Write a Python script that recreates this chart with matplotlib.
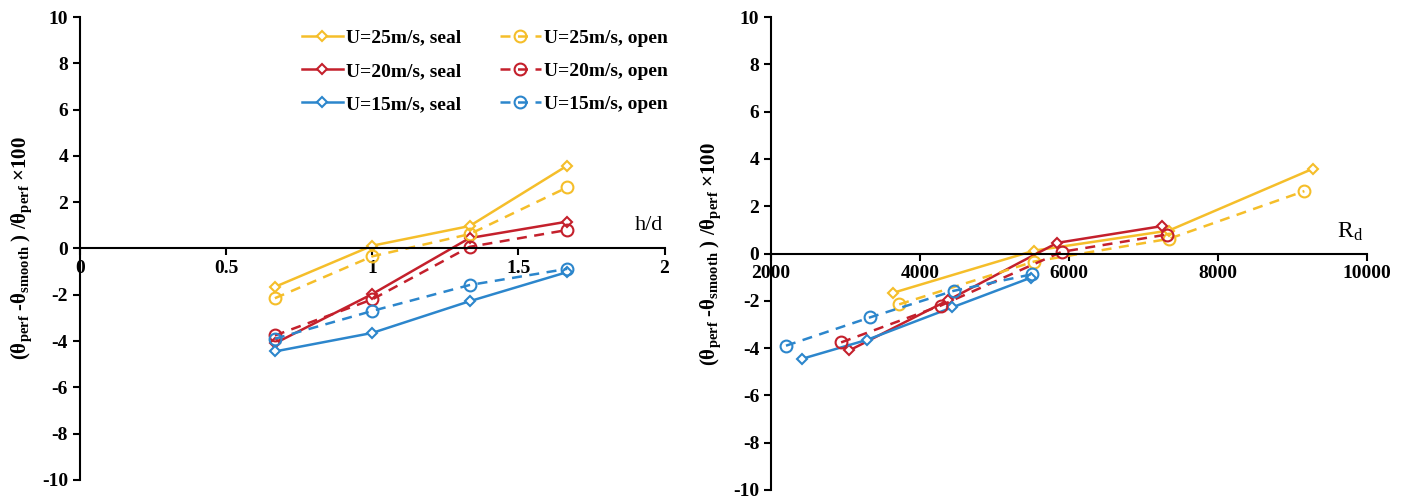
import matplotlib
matplotlib.use("Agg")
import matplotlib.pyplot as plt

plt.rcParams['font.family'] = ['Liberation Serif', 'DejaVu Serif']
plt.rcParams['mathtext.fontset'] = 'stix'
plt.rcParams['axes.unicode_minus'] = False
plt.rcParams['font.size'] = 14

# h/d values shared by all series
hd = [0.667, 1.0, 1.333, 1.667]

# relative difference (%) for each case
y25_seal = [-1.66, 0.12, 0.97, 3.58]
y25_open = [-2.15, -0.34, 0.62, 2.64]
y20_seal = [-4.10, -1.97, 0.45, 1.16]
y20_open = [-3.76, -2.20, 0.07, 0.80]
y15_seal = [-4.45, -3.65, -2.28, -1.02]
y15_open = [-3.90, -2.70, -1.58, -0.88]

# Reynolds number R_d for each case
rd25_seal = [3640, 5530, 7340, 9270]
rd25_open = [3720, 5530, 7340, 9160]
rd20_seal = [3050, 4380, 5840, 7250]
rd20_open = [2940, 4280, 5900, 7310]
rd15_seal = [2420, 3290, 4430, 5490]
rd15_open = [2200, 3330, 4450, 5500]

labels_seal = ["U=25m/s, seal", "U=20m/s, seal", "U=15m/s, seal"]
labels_open = ["U=25m/s, open", "U=20m/s, open", "U=15m/s, open"]

yellow = '#F5BE2A'
red = '#C4202C'
blue = '#2C86CC'
colors = [yellow, red, blue]

ylabel = r'($\mathregular{\theta_{perf}}$ -$\mathregular{\theta_{smooth}}$ ) /$\mathregular{\theta_{perf}}$ ×100'

fig = plt.figure(figsize=(14.02, 5.03), dpi=100)
ax1 = fig.add_axes([0.057, 0.046, 0.417, 0.920])
ax2 = fig.add_axes([0.550, 0.026, 0.425, 0.940])


def draw(ax, xs_seal, xs_open, ys_seal, ys_open):
    hs, ho = [], []
    for xs, ys, c, lab in zip(xs_seal, ys_seal, colors, labels_seal):
        h, = ax.plot(xs, ys, '-', color=c, lw=1.8, marker='D', ms=5.5,
                     mfc='white', mec=c, mew=1.5, label=lab)
        hs.append(h)
    for xs, ys, c, lab in zip(xs_open, ys_open, colors, labels_open):
        h, = ax.plot(xs, ys, '--', color=c, lw=1.8, marker='o', ms=8.5,
                     mfc='none', mec=c, mew=1.5, label=lab, dashes=(4, 3))
        ho.append(h)
    ax.set_ylim(-10, 10)
    ax.set_yticks(range(-10, 11, 2))
    ax.spines['top'].set_visible(False)
    ax.spines['right'].set_visible(False)
    ax.spines['bottom'].set_position(('data', 0))
    ax.spines['left'].set_linewidth(1.5)
    ax.spines['bottom'].set_linewidth(1.5)
    ax.tick_params(direction='out', length=5, width=1.5, labelsize=14)
    for t in ax.get_xticklabels() + ax.get_yticklabels():
        t.set_fontweight('bold')
    ax.set_ylabel(ylabel, fontsize=15, fontweight='bold')
    ax.set_facecolor('none')
    return hs, ho


hs, ho = draw(ax1, [hd] * 3, [hd] * 3,
              [y25_seal, y20_seal, y15_seal], [y25_open, y20_open, y15_open])
ax1.set_xlim(0, 2)
ax1.set_xticks([0, 0.5, 1, 1.5, 2])
ax1.set_xticklabels(['0', '0.5', '1', '1.5', '2'], fontweight='bold')
ax1.text(1.945, 1.0, 'h/d', fontsize=16, ha='center', va='center')
ax1.yaxis.set_label_coords(-0.078, 0.5)
leg = ax1.legend(hs + ho, labels_seal + labels_open, ncol=2, frameon=False,
                 loc='upper right', bbox_to_anchor=(1.035, 1.012),
                 handlelength=2.1, columnspacing=2.0, labelspacing=0.8,
                 handletextpad=0.15, prop={'size': 14, 'weight': 'bold'})

draw(ax2, [rd25_seal, rd20_seal, rd15_seal], [rd25_open, rd20_open, rd15_open],
     [y25_seal, y20_seal, y15_seal], [y25_open, y20_open, y15_open])
ax2.set_xlim(2000, 10000)
ax2.set_xticks([2000, 4000, 6000, 8000, 10000])
ax2.set_xticklabels(['2000', '4000', '6000', '8000', '10000'], fontweight='bold')
ax2.text(9780, 0.9, r'R$_\mathregular{d}$', fontsize=17, ha='center', va='center')
ax2.yaxis.set_label_coords(-0.08, 0.5)

fig.savefig('out.png', dpi=100)
